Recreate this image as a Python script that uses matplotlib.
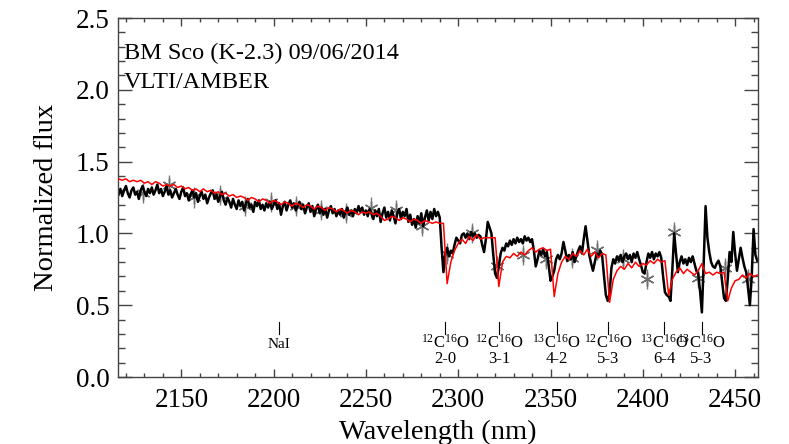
import numpy as np
import matplotlib
matplotlib.use("Agg")
import matplotlib.pyplot as plt
from matplotlib.ticker import MultipleLocator

plt.rcParams['font.family'] = ['Liberation Serif', 'DejaVu Serif']
plt.rcParams['mathtext.fontset'] = 'custom'
plt.rcParams['mathtext.rm'] = 'Liberation Serif'
plt.rcParams['mathtext.it'] = 'Liberation Serif:italic'

# ---------------- data ----------------
obs_start = 2116  # nm, 1 nm sampling
obs_flux = [
    1.27, 1.31, 1.26, 1.30, 1.33, 1.28, 1.25, 1.30, 1.32, 1.27, 1.29, 1.24, 1.30, 1.33, 1.29, 1.26, 1.31, 1.28, 1.32, 1.27,
    1.30, 1.34, 1.28, 1.31, 1.26, 1.29, 1.33, 1.27, 1.30, 1.25, 1.28, 1.31, 1.27, 1.24, 1.29, 1.32, 1.26, 1.28, 1.23, 1.27,
    1.30, 1.25, 1.28, 1.22, 1.26, 1.29, 1.24, 1.27, 1.21, 1.25, 1.28, 1.30, 1.24, 1.27, 1.22, 1.26, 1.29, 1.23, 1.20, 1.25,
    1.22, 1.18, 1.24, 1.20, 1.17, 1.23, 1.19, 1.22, 1.16, 1.21, 1.24, 1.18, 1.20, 1.15, 1.22, 1.19, 1.23, 1.17, 1.20, 1.16,
    1.21, 1.18, 1.22, 1.17, 1.20, 1.23, 1.17, 1.21, 1.13, 1.19, 1.22, 1.16, 1.20, 1.23, 1.18, 1.21, 1.16, 1.19, 1.22, 1.17,
    1.20, 1.14, 1.18, 1.21, 1.15, 1.19, 1.12, 1.17, 1.20, 1.14, 1.18, 1.13, 1.17, 1.11, 1.16, 1.19, 1.14, 1.17, 1.12, 1.16,
    1.13, 1.17, 1.11, 1.15, 1.18, 1.13, 1.16, 1.12, 1.17, 1.14, 1.19, 1.15, 1.18, 1.13, 1.16, 1.12, 1.17, 1.14, 1.10, 1.16,
    1.12, 1.17, 1.08, 1.14, 1.18, 1.11, 1.15, 1.09, 1.16, 1.12, 1.07, 1.14, 1.17, 1.10, 1.15, 1.12, 1.17, 1.08, 1.13, 1.06,
    1.10, 1.04, 1.12, 1.07, 1.14, 1.05, 1.11, 1.16, 1.09, 1.15, 1.10, 1.17, 1.12, 1.15, 1.11,
    0.90, 0.73, 0.86, 0.90, 0.84, 0.88, 0.86, 0.92, 0.97, 0.95,
    0.93, 0.99, 1.00, 0.97, 1.00, 0.96, 1.01, 0.98, 1.00, 0.97,
    0.99, 0.98, 0.92, 0.87, 0.96, 1.08, 1.04, 1.00, 0.85, 0.72,
    0.69, 0.77, 0.86, 0.90, 0.88, 0.93, 0.91, 0.95, 0.92, 0.96,
    0.93, 0.97, 0.94, 0.96, 0.93, 0.98, 0.95, 0.97, 0.94, 0.96,
    0.88, 0.77, 0.82, 0.88, 0.85, 0.89, 0.84, 0.87, 0.78, 0.67,
    0.70, 0.74, 0.82, 0.85, 0.82, 0.86, 0.94, 0.88, 0.81, 0.85,
    0.82, 0.87, 0.80, 0.84, 0.88, 0.91, 0.86, 0.96, 1.05, 0.95,
    0.85, 0.79, 0.74, 0.80, 0.86, 0.84, 0.88, 0.84, 0.70, 0.57,
    0.53, 0.58, 0.76, 0.82, 0.79, 0.84, 0.81, 0.85, 0.80, 0.84,
    0.86, 0.82, 0.85, 0.80, 0.86, 0.83, 0.87, 0.82, 0.78, 0.73,
    0.72, 0.80, 0.86, 0.83, 0.87, 0.82, 0.86, 0.84, 0.87, 0.83,
    0.70, 0.59, 0.57, 0.56, 0.53, 0.75, 1.00, 0.86, 0.73, 0.80,
    0.84, 0.79, 0.82, 0.78, 0.83, 0.80, 0.84, 0.79, 0.74, 0.72,
    0.60, 0.45, 0.80, 1.19, 0.97, 0.87, 0.80, 0.77, 0.76, 0.79,
    0.81, 0.77, 0.66, 0.55, 0.53, 0.68, 0.87, 0.80, 1.01, 0.86,
    0.74, 0.82, 0.90, 0.83, 0.77, 0.73, 0.62, 0.50, 0.70, 1.03,
    0.85, 0.81,
]

model_start = 2116  # nm, 2 nm sampling
model_flux = [
    1.38, 1.37, 1.38, 1.36, 1.37, 1.36, 1.37, 1.35, 1.36, 1.34, 1.36, 1.35, 1.33, 1.34, 1.33,
    1.34, 1.32, 1.33, 1.31, 1.32, 1.30, 1.31, 1.29, 1.31, 1.29, 1.30, 1.28, 1.29, 1.27, 1.28,
    1.26, 1.27, 1.25, 1.26, 1.25, 1.23, 1.25, 1.24, 1.22, 1.24, 1.23, 1.21, 1.23,
    1.22, 1.20, 1.22, 1.21, 1.19, 1.21, 1.20, 1.18, 1.20, 1.19, 1.17, 1.19, 1.18, 1.16, 1.18,
    1.17, 1.15, 1.17, 1.16, 1.14, 1.16, 1.15, 1.13, 1.15, 1.14, 1.15, 1.13, 1.14, 1.12, 1.09,
    1.10, 1.12, 1.11, 1.09, 1.11, 1.10, 1.08, 1.10, 1.09, 1.07, 1.09, 1.08, 1.07, 1.08, 1.07,
    1.07, 0.65, 0.80, 0.88, 0.93, 0.96, 0.93, 0.98, 0.95, 0.99, 0.96, 0.97, 0.97, 0.97,
    0.97, 0.63, 0.80, 0.84, 0.83, 0.86, 0.84, 0.87, 0.85, 0.88, 0.90,
    0.87, 0.89, 0.90, 0.88, 0.89, 0.56, 0.72, 0.80, 0.84, 0.82, 0.86, 0.84, 0.88, 0.85,
    0.89, 0.84, 0.87, 0.83, 0.86, 0.85, 0.52,
    0.68, 0.74, 0.77, 0.75, 0.79, 0.76, 0.80, 0.77, 0.79, 0.78, 0.81, 0.79, 0.82, 0.80,
    0.81, 0.57, 0.68, 0.73, 0.76, 0.72, 0.75, 0.73, 0.71, 0.74, 0.79, 0.72, 0.73, 0.71,
    0.73, 0.72, 0.73, 0.53, 0.62, 0.67, 0.68, 0.71, 0.69, 0.72, 0.70, 0.71,
]

# low-resolution points (asterisks with error bars)
pt_wave = [2129.5, 2143.5, 2156.9, 2171.0, 2184.5, 2198.6, 2211.9, 2225.5, 2239.2,
           2252.7, 2266.1, 2280.2, 2293.7, 2307.2, 2320.8, 2335.2, 2347.8, 2361.4,
           2375.2, 2389.0, 2402.0, 2416.8, 2430.0, 2444.4, 2457.0]
pt_flux = [1.28, 1.34, 1.25, 1.27, 1.19, 1.22, 1.19, 1.165, 1.14,
           1.18, 1.165, 1.05, 0.86, 1.00, 0.77, 0.85, 0.82, 0.83,
           0.886, 0.82, 0.68, 1.01, 0.69, 0.76, 0.68]
pt_err = [0.07] * len(pt_wave)

line_wave = [2203.0, 2293.1, 2322.2, 2353.3, 2381.2, 2411.5, 2431.8]
line_iso = [None, '12', '12', '13', '12', '13', '13']
line_band = ['NaI', '2-0', '3-1', '4-2', '5-3', '6-4', '5-3']

title_lines = ['BM Sco (K-2.3) 09/06/2014', 'VLTI/AMBER']

obs_wave = obs_start + np.arange(len(obs_flux))
model_wave = model_start + 2 * np.arange(len(model_flux))

# ---------------- figure ----------------
fig = plt.figure(figsize=(7.89, 4.44), dpi=100)
ax = fig.add_axes([118 / 789, 1 - 377 / 444, 640 / 789, 359 / 444])

ax.errorbar(pt_wave, pt_flux, yerr=pt_err, fmt='none', ecolor='#7a7a7a',
            elinewidth=1.0, capsize=0, zorder=1)
ax.plot(pt_wave, pt_flux, linestyle='none', marker=(6, 2, 0), markersize=10,
        markeredgecolor='#6e6e6e', markeredgewidth=1.0, zorder=1)
ax.plot(obs_wave, obs_flux, color='black', lw=1.8, zorder=2)
ax.plot(model_wave, model_flux, color='#ff0000', lw=1.1, zorder=3)

# line identifications
for w, iso, band in zip(line_wave, line_iso, line_band):
    ax.plot([w, w], [0.30, 0.385], color='black', lw=0.8)
    if iso is None:
        ax.text(w, 0.20, band, ha='center', va='baseline', fontsize=11)
    else:
        ax.text(w, 0.205, r'$^{%s}$C$^{16}$O' % iso, ha='center', va='baseline', fontsize=12)
        ax.text(w, 0.095, band, ha='center', va='baseline', fontsize=12)

ax.text(0.0094, 0.885, title_lines[0], transform=ax.transAxes, fontsize=17.5, va='baseline')
ax.text(0.0094, 0.804, title_lines[1], transform=ax.transAxes, fontsize=17.5, va='baseline')

ax.set_xlim(2115.7, 2462.4)
ax.set_ylim(0.0, 2.5)
ax.xaxis.set_major_locator(MultipleLocator(50))
ax.xaxis.set_minor_locator(MultipleLocator(10))
ax.yaxis.set_major_locator(MultipleLocator(0.5))
ax.yaxis.set_minor_locator(MultipleLocator(0.1))
ax.yaxis.set_major_formatter(plt.FormatStrFormatter('%.1f'))

axcol = '#444444'
for s in ax.spines.values():
    s.set_color(axcol)
    s.set_linewidth(1.0)
ax.tick_params(axis='both', which='both', direction='in', top=True, right=True,
               color=axcol, width=1.0, labelsize=19.5)
ax.tick_params(axis='x', which='major', length=5.5, pad=8)
ax.tick_params(axis='x', which='minor', length=3)
ax.tick_params(axis='y', which='major', length=10, pad=6)
ax.tick_params(axis='y', which='minor', length=5)

ax.set_xlabel('Wavelength (nm)', fontsize=20.5, va='baseline')
ax.xaxis.set_label_coords(0.5, (377 - 439) / 359)
ax.set_ylabel('Normalized flux', fontsize=20.5, va='baseline')
ax.yaxis.set_label_coords((53 - 118) / 640, 0.5)

fig.savefig('out.png', dpi=100)
